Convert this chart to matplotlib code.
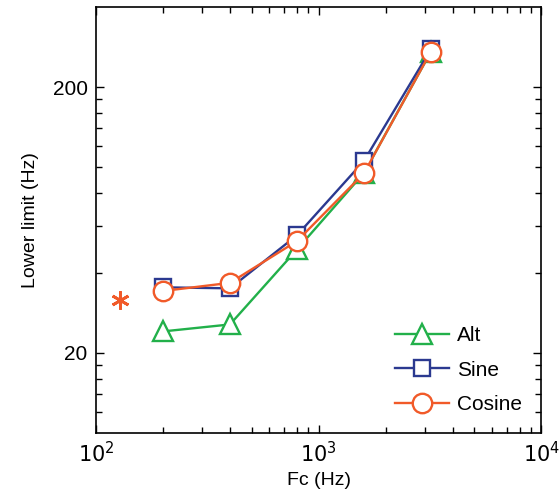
import matplotlib
matplotlib.use("Agg")
import matplotlib.pyplot as plt
from matplotlib.ticker import FixedLocator, NullFormatter, FixedFormatter, LogLocator

# data
fc = [200, 400, 800, 1600, 3200]
alt = [24.1, 25.6, 49, 95, 272]
sine = [35.3, 35.0, 55.4, 105.5, 278]
cosine = [34.2, 36.7, 52.7, 94.8, 272]
star_x = [128]
star_y = [31.6]

green = "#22b04a"
blue = "#2b3990"
orange = "#f15a29"

plt.rcParams['font.family'] = ['Liberation Sans', 'DejaVu Sans']

fig = plt.figure(figsize=(5.59, 5.0), dpi=100)
ax = fig.add_axes([0.1717, 0.134, 0.7963, 0.852])

ms = 14
ax.plot(fc, alt, color=green, lw=1.7, marker="^", ms=ms, mfc="white", mec=green, mew=1.7, label="Alt")
ax.plot(fc, sine, color=blue, lw=1.7, marker="s", ms=ms - 2.5, mfc="white", mec=blue, mew=1.7, label="Sine")
ax.plot(fc, cosine, color=orange, lw=1.7, marker="o", ms=ms, mfc="white", mec=orange, mew=1.7, label="Cosine")
ax.plot(star_x, star_y, ls="none", marker=(6, 2, 0), ms=13, mec=orange, mew=2)

ax.set_xscale("log")
ax.set_yscale("log")
ax.set_xlim(100, 10000)
ax.set_ylim(10, 400)

ax.xaxis.set_major_locator(FixedLocator([100, 1000, 10000]))
ax.xaxis.set_major_formatter(FixedFormatter([r"$10^2$", r"$10^3$", r"$10^4$"]))
ax.xaxis.set_minor_locator(LogLocator(base=10, subs=range(2, 10)))
ax.xaxis.set_minor_formatter(NullFormatter())

ax.yaxis.set_major_locator(FixedLocator([20, 200]))
ax.yaxis.set_major_formatter(FixedFormatter(["20", "200"]))
ax.yaxis.set_minor_locator(FixedLocator([12, 14, 16, 18, 40, 60, 80, 100, 120, 140, 160, 180]))
ax.yaxis.set_minor_formatter(NullFormatter())

ax.tick_params(which="both", direction="in", top=True, right=True, labelsize=15, width=1)
ax.tick_params(which="major", length=6, pad=6)
ax.tick_params(which="minor", length=4)
for s in ax.spines.values():
    s.set_linewidth(1.2)

ax.set_xlabel("Fc (Hz)", fontsize=14, labelpad=4)
ax.set_ylabel("Lower limit (Hz)", fontsize=14, labelpad=10)

ax.legend(loc="lower right", bbox_to_anchor=(1.0, 0.0), frameon=False, fontsize=15,
          handlelength=2.6, handletextpad=0.4, labelspacing=0.75)

fig.savefig("out.png", dpi=100)
